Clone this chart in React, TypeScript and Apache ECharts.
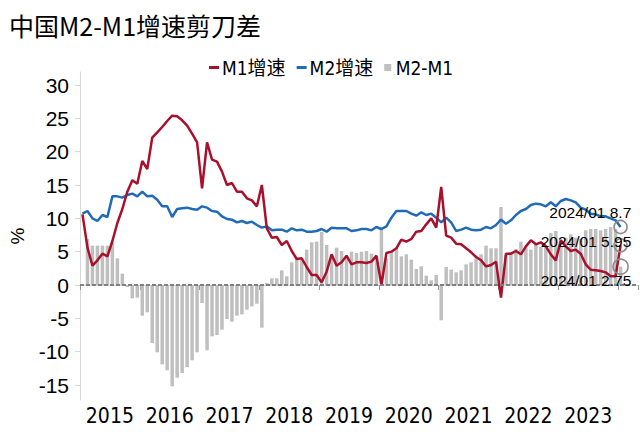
import React, { useEffect, useRef } from "react";
import * as echarts from "echarts";

// Monthly categories 2015/01 ... 2024/04 (axis runs a little past the last data point)
const START_YEAR = 2015;
const CATEGORY_COUNT = 112;
const months: string[] = Array.from({ length: CATEGORY_COUNT }, (_, i) =>
  `${START_YEAR + Math.floor(i / 12)}/${String((i % 12) + 1).padStart(2, "0")}`
);

// M1 YoY growth, %, 2015/01 - 2024/01
const m1: number[] = [
  10.6, 5.6, 2.9, 3.7, 4.7, 4.3, 6.6, 9.3, 11.4, 14.0, 15.7, 15.2,
  18.6, 17.4, 22.1, 22.9, 23.7, 24.6, 25.4, 25.3, 24.7, 23.9, 22.7, 21.4,
  14.5, 21.4, 18.8, 18.5, 17.0, 15.0, 15.3, 14.0, 14.0, 13.0, 12.7, 11.8,
  15.0, 8.5, 7.1, 7.2, 6.0, 6.6, 5.1, 3.9, 4.0, 2.7, 1.5, 1.5,
  0.4, 2.0, 4.6, 2.9, 3.4, 4.4, 3.1, 3.4, 3.4, 3.3, 3.5, 4.4,
  0.0, 4.8, 5.0, 5.5, 6.8, 6.5, 6.9, 8.0, 8.1, 9.1, 10.0, 8.6,
  14.7, 7.4, 7.1, 6.2, 6.1, 5.5, 4.9, 4.2, 3.7, 2.8, 3.0, 3.5,
  -1.9, 4.7, 4.7, 5.1, 4.6, 5.8, 6.7, 6.1, 6.4, 5.8, 4.6, 3.7,
  6.7, 5.8, 5.1, 5.3, 4.7, 3.1, 2.3, 2.2, 2.1, 1.9, 1.3, 1.3,
  5.95,
];

// M2 YoY growth, %
const m2: number[] = [
  10.7, 11.1, 10.0, 9.6, 10.5, 10.2, 13.3, 13.3, 13.1, 13.5, 13.7, 13.3,
  14.0, 13.3, 13.4, 12.8, 11.8, 11.8, 10.2, 11.4, 11.5, 11.6, 11.4, 11.3,
  11.8, 11.6, 11.1, 11.0, 10.3, 9.9, 9.8, 9.4, 9.6, 9.3, 9.5, 9.0,
  8.6, 8.8, 8.2, 8.3, 8.3, 8.0, 8.5, 8.2, 8.3, 8.0, 8.0, 8.1,
  8.4, 8.0, 8.6, 8.5, 8.5, 8.5, 8.1, 8.2, 8.4, 8.4, 8.2, 8.7,
  8.4, 8.8, 10.1, 11.1, 11.1, 11.1, 10.7, 10.4, 10.9, 10.5, 10.7, 10.1,
  9.4, 10.1, 9.4, 8.1, 8.3, 8.6, 8.3, 8.2, 8.3, 8.7, 8.5, 9.0,
  9.8, 9.2, 9.7, 10.5, 11.1, 11.4, 12.0, 12.2, 12.1, 11.8, 12.4, 11.8,
  12.6, 12.9, 12.7, 12.4, 11.6, 11.3, 10.7, 10.6, 10.3, 10.3, 10.0, 9.7,
  8.7,
];

// M2 - M1 spread, %
const spread: number[] = [
  0.1, 6.9, 5.9, 5.9, 5.9, 5.9, 6.4, 4.0, 1.7, -0.3, -2.0, -1.9,
  -4.6, -4.1, -8.7, -10.1, -11.9, -12.8, -15.2, -13.9, -13.2, -12.3, -11.3, -10.1,
  -2.7, -9.8, -7.7, -7.5, -6.7, -5.1, -5.5, -4.6, -4.4, -3.7, -3.2, -2.8,
  -6.4, 0.3, 1.0, 1.0, 2.2, 1.3, 3.4, 3.8, 3.8, 5.3, 6.4, 6.5,
  8.0, 6.0, 4.0, 5.6, 5.1, 4.1, 5.0, 4.8, 5.0, 5.1, 4.7, 4.3,
  8.4, 4.0, 5.1, 5.6, 4.3, 4.6, 3.8, 2.4, 2.8, 1.4, 0.7, 1.5,
  -5.3, 2.7, 2.3, 1.9, 2.2, 3.1, 3.4, 4.0, 4.6, 5.9, 5.5, 5.5,
  11.7, 4.5, 5.0, 5.4, 6.5, 5.6, 5.3, 6.1, 5.7, 6.0, 7.8, 8.1,
  5.9, 7.1, 7.6, 7.1, 6.9, 8.2, 8.4, 8.4, 8.2, 8.4, 8.7, 8.4,
  2.75,
];

const yTickValues: number[] = [-15, -10, -5, 0, 5, 10, 15, 20, 25, 30];

const TITLE = "中国M2-M1增速剪刀差";
const NAME_M1 = "M1增速";
const NAME_M2 = "M2增速";
const NAME_SPREAD = "M2-M1";

const RED = "#A8102C";
const BLUE = "#1F6BB6";
const GRAY = "#BFBFBF";
const AXIS_GRAY = "#D9D9D9";
const LATIN = "'Liberation Sans', Arial, sans-serif";
const CONDENSED = "'DejaVu Sans Condensed', 'Liberation Sans', 'Noto Sans CJK SC', sans-serif";

function endMark(values: number[], size: number, pos: [number, number]) {
  const i = values.length - 1;
  return {
    silent: true,
    symbol: "circle",
    symbolSize: size,
    itemStyle: { color: "rgba(0,0,0,0)", borderColor: "#8C8C8C", borderWidth: 1.6 },
    label: {
      show: true,
      position: pos,
      align: "right",
      verticalAlign: "middle",
      color: "#000",
      fontSize: 15.5,
      fontFamily: LATIN,
      formatter: () => `${months[i]} ${values[i]}`,
    },
    data: [{ coord: [months[i], values[i]] }],
  };
}

export default function App() {
  const ref = useRef<HTMLDivElement>(null);

  useEffect(() => {
    if (!ref.current) return;
    const chart = echarts.init(ref.current, null, { renderer: "svg" });
    const option: any = {
      animation: false,
      backgroundColor: "#fff",
      title: {
        text: TITLE,
        left: 4,
        top: 7,
        textStyle: { fontSize: 25, fontWeight: "normal", color: "#000", fontFamily: "'Noto Sans CJK SC', sans-serif" },
      },
      legend: {
        left: 204,
        top: 53,
        itemWidth: 10,
        itemHeight: 7,
        itemGap: 11,
        textStyle: { fontSize: 19, color: "#000", fontFamily: CONDENSED, padding: [0, 0, 0, -2] },
        data: [
          { name: NAME_M1, icon: "path://M0,0H10V3H0Z" },
          { name: NAME_M2, icon: "path://M0,0H10V3H0Z" },
          { name: NAME_SPREAD, icon: "path://M0,0H7V7H0Z" },
        ],
      },
      grid: { left: 80, right: 2, top: 72, bottom: 32 },
      xAxis: {
        type: "category",
        data: months,
        boundaryGap: true,
        axisLine: { lineStyle: { color: AXIS_GRAY, width: 1 } },
        axisTick: {
          show: true,
          interval: (index: number) => index % 12 === 0,
          length: 5,
          lineStyle: { color: "#999" },
        },
        axisLabel: {
          interval: (index: number) => index % 12 === 6 && index < 108,
          formatter: (v: string) => v.slice(0, 4),
          fontSize: 21,
          color: "#000",
          fontFamily: CONDENSED,
          margin: 5,
          padding: [0, 5, 0, 0],
        },
        splitLine: { show: false },
      },
      yAxis: {
        type: "value",
        min: -17.25,
        max: 31.95,
        name: "%",
        nameLocation: "middle",
        nameRotate: 90,
        nameGap: 53,
        nameTextStyle: { fontSize: 19, color: "#000", fontFamily: LATIN },
        axisLine: { show: true, lineStyle: { color: AXIS_GRAY } },
        axisTick: { show: true, length: 5, lineStyle: { color: AXIS_GRAY }, customValues: yTickValues },
        axisLabel: { fontSize: 21, color: "#000", fontFamily: LATIN, margin: 11, customValues: yTickValues },
        splitLine: { show: false },
      },
      series: [
        {
          name: NAME_M1,
          type: "line",
          data: m1,
          symbol: "none",
          z: 4,
          lineStyle: { color: RED, width: 2.5 },
          itemStyle: { color: RED },
          markPoint: endMark(m1, 13, [18, 3]),
        },
        {
          name: NAME_M2,
          type: "line",
          data: m2,
          symbol: "none",
          z: 3,
          lineStyle: { color: BLUE, width: 2.5 },
          itemStyle: { color: BLUE },
          markPoint: endMark(m2, 13, [18, -7.5]),
        },
        {
          name: NAME_SPREAD,
          type: "bar",
          data: spread,
          barWidth: 3.5,
          z: 1,
          itemStyle: { color: GRAY },
          markLine: {
            silent: true,
            symbol: "none",
            label: { show: false },
            lineStyle: { color: "#808080", type: [4, 2], width: 1.8 },
            data: [{ yAxis: 0 }],
          },
          markPoint: endMark(spread, 15, [19, 22]),
        },
      ],
    };
    chart.setOption(option);
    return () => chart.dispose();
  }, []);

  return <div ref={ref} style={{ width: 640, height: 432, position: "absolute", left: 0, top: 0 }} />;
}
